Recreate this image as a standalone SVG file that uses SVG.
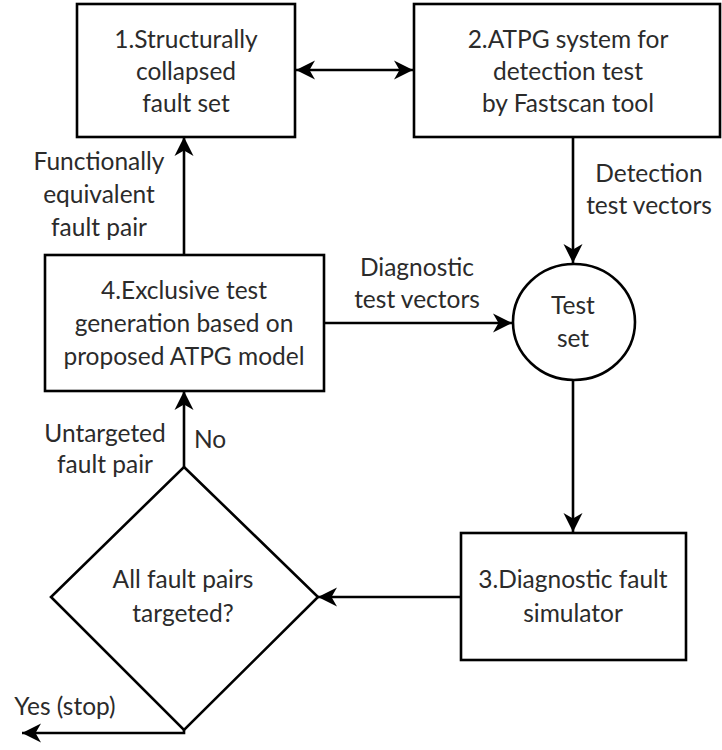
<svg xmlns="http://www.w3.org/2000/svg" width="722" height="750" viewBox="0 0 722 750">
  <defs>
    <marker id="head" viewBox="-20 -10 22 20" refX="0" refY="0" markerWidth="22" markerHeight="20" markerUnits="userSpaceOnUse" orient="auto-start-reverse">
      <path d="M0,0 L-19,-9.5 L-13.5,0 L-19,9.5 Z" fill="#000"/>
    </marker>
    <style>
      .box { fill: #fff; stroke: #000; stroke-width: 2.6; }
      .link { fill: none; stroke: #000; stroke-width: 2.6; }
      text { font-family: Lato, "Liberation Sans", sans-serif; font-size: 24.5px; fill: #2b2b2b; text-anchor: middle; }
    </style>
  </defs>

  <rect width="722" height="750" fill="#fff"/>

  <!-- connectors -->
  <g id="connectors">
    <line class="link" x1="296" y1="70" x2="413" y2="70" marker-start="url(#head)" marker-end="url(#head)"/>
    <line class="link" x1="573" y1="137" x2="573" y2="263" marker-end="url(#head)"/>
    <line class="link" x1="184" y1="255" x2="184" y2="137" marker-end="url(#head)"/>
    <line class="link" x1="324" y1="323" x2="512" y2="323" marker-end="url(#head)"/>
    <line class="link" x1="573" y1="380" x2="573" y2="532" marker-end="url(#head)"/>
    <line class="link" x1="461" y1="597" x2="318" y2="597" marker-end="url(#head)"/>
    <line class="link" x1="184" y1="467" x2="184" y2="391" marker-end="url(#head)"/>
    <path class="link" d="M184,729 V733 H22" marker-end="url(#head)"/>
    <text x="99" y="170">Functionally</text>
    <text x="99" y="203">equivalent</text>
    <text x="99" y="236">fault pair</text>
    <text x="649" y="182">Detection</text>
    <text x="649" y="214">test vectors</text>
    <text x="417" y="276">Diagnostic</text>
    <text x="417" y="308">test vectors</text>
    <text x="105" y="442">Untargeted</text>
    <text x="105" y="473">fault pair</text>
    <text x="210" y="448">No</text>
    <text x="65" y="715">Yes (stop)</text>
  </g>

  <!-- 1. structurally collapsed fault set -->
  <g id="node1">
    <rect class="box" x="77" y="4" width="218" height="133"/>
    <text x="186" y="48">1.Structurally</text>
    <text x="186" y="80">collapsed</text>
    <text x="186" y="112">fault set</text>
  </g>

  <!-- 2. ATPG system -->
  <g id="node2">
    <rect class="box" x="414" y="4" width="306" height="133"/>
    <text x="568" y="48">2.ATPG system for</text>
    <text x="568" y="80">detection test</text>
    <text x="568" y="112">by Fastscan tool</text>
  </g>

  <!-- test set -->
  <g id="testset">
    <ellipse class="box" cx="574" cy="322" rx="61" ry="58"/>
    <text x="573" y="314">Test</text>
    <text x="573" y="347">set</text>
  </g>

  <!-- 4. exclusive test generation -->
  <g id="node4">
    <rect class="box" x="45" y="255" width="279" height="136"/>
    <text x="184" y="299">4.Exclusive test</text>
    <text x="184" y="332">generation based on</text>
    <text x="184" y="365">proposed ATPG model</text>
  </g>

  <!-- 3. diagnostic fault simulator -->
  <g id="node3">
    <rect class="box" x="461" y="533" width="225" height="127"/>
    <text x="573" y="588">3.Diagnostic fault</text>
    <text x="573" y="622">simulator</text>
  </g>

  <!-- decision -->
  <g id="decision">
    <polygon class="box" points="184,467 318,597 184,730 51,597"/>
    <text x="183" y="588">All fault pairs</text>
    <text x="183" y="622">targeted?</text>
  </g>
</svg>
